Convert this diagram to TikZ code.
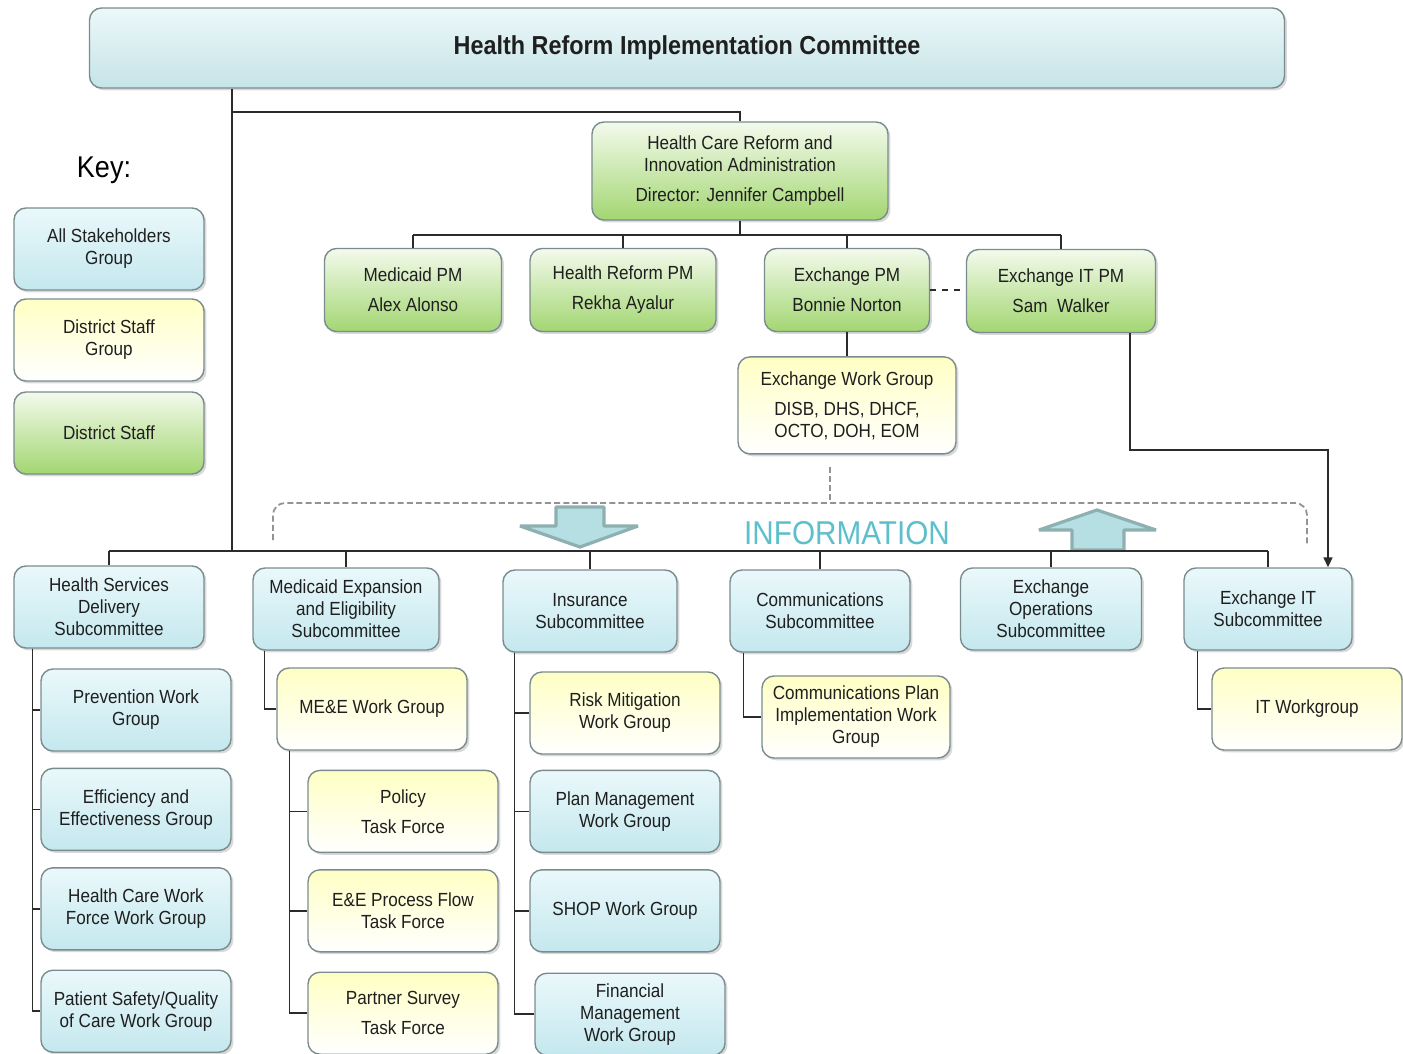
\documentclass[tikz,border=0pt]{standalone}
\usepackage{fontspec}
\setmainfont{Liberation Sans}[FakeStretch=0.9]
\usepackage{tikz}
\usetikzlibrary{shapes, arrows.meta, calc, positioning, shadows}
\definecolor{boxline}{HTML}{7A8C8E}
\definecolor{blueTop}{HTML}{EAF8FB}
\definecolor{blueBot}{HTML}{C4E8EE}
\definecolor{greenTop}{HTML}{F3FAEC}
\definecolor{greenBot}{HTML}{A3D672}
\definecolor{yellowTop}{HTML}{FFFFC4}
\definecolor{yellowBot}{HTML}{FFFFFF}
\definecolor{titleTop}{HTML}{EDF8F9}
\definecolor{titleBot}{HTML}{C5E4E7}
\definecolor{infotext}{HTML}{5CBFCA}
\definecolor{infofill}{HTML}{B5DFE3}
\definecolor{infoedge}{HTML}{8FB0B1}
\definecolor{wirecol}{HTML}{2B2B2B}
\tikzstyle{orgbox} = [rectangle, rounded corners=6pt, draw=boxline, line width=0.7pt, align=center, text=black!88, font=\fontsize{9.5}{11}\selectfont, inner sep=2pt, drop shadow={opacity=0.3, shadow xshift=1.2pt, shadow yshift=-1.2pt}]
\tikzstyle{bluebox} = [orgbox, top color=blueTop, bottom color=blueBot]
\tikzstyle{greenbox} = [orgbox, top color=greenTop, bottom color=greenBot]
\tikzstyle{yellowbox} = [orgbox, top color=yellowTop, bottom color=yellowBot]
\tikzstyle{titlebox} = [orgbox, top color=titleTop, bottom color=titleBot, minimum width=597.5pt, minimum height=40pt, font=\fontsize{13}{15}\selectfont\bfseries]
\tikzstyle{wg} = [minimum width=95pt, minimum height=41pt]
\tikzstyle{pm} = [greenbox, minimum height=41.5pt]
\tikzstyle{sub} = [bluebox, minimum height=41pt]
\tikzstyle{wire} = [draw=wirecol, line width=0.8pt]
\tikzstyle{wirearrow} = [wire, -{Triangle[length=5pt, width=4.5pt]}]
\tikzstyle{infoline} = [draw=gray!85, line width=0.9pt, dash pattern=on 3pt off 1.6pt]
\tikzstyle{infoarrow} = [fill=infofill, draw=infoedge, line width=1.6pt, line join=bevel]

\begin{document}
\begin{tikzpicture}[x=0.5pt, y=-0.5pt, node distance=8pt]
    \useasboundingbox (0,0) rectangle (1403,1054);
    % top of the chart
    \node (title) [titlebox] at (687,48) {Health Reform Implementation Committee};
    \node (key) [font=\fontsize{15}{17}\selectfont] at (104,170) {Key:};
    \node (keyall) [bluebox, wg] at (109,249) {All Stakeholders\\Group};
    \node (keydsg) [yellowbox, wg] at (109,340) {District Staff\\Group};
    \node (keyds) [greenbox, wg] at (109,433) {District Staff};
    \node (hcria) [greenbox, minimum width=148pt, minimum height=49pt] at (740,171) {Health Care Reform and\\Innovation Administration\\[4pt]Director: Jennifer Campbell};
    \node (mpm) [pm, minimum width=88.5pt] at (413,290) {Medicaid PM\\[4pt]Alex Alonso};
    \node (hrpm) [pm, minimum width=93pt] at (623,290) {Health Reform PM\\[4pt]Rekha Ayalur};
    \node (xpm) [pm, minimum width=82.5pt] at (847,290) {Exchange PM\\[4pt]Bonnie Norton};
    \node (xitpm) [pm, minimum width=94.5pt] at (1061,291) {Exchange IT PM\\[4pt]Sam\ \ Walker};
    \node (xwg) [yellowbox, minimum width=109pt, minimum height=48.5pt, below=12pt of xpm] {Exchange Work Group\\[4pt]DISB, DHS, DHCF,\\OCTO, DOH, EOM};
    % subcommittees
    \node (hsd) [sub, minimum width=95pt] at (109,607) {Health Services\\Delivery\\Subcommittee};
    \node (mee) [sub, minimum width=93pt] at (346,609) {Medicaid Expansion\\and Eligibility\\Subcommittee};
    \node (ins) [sub, minimum width=87pt] at (590,611) {Insurance\\Subcommittee};
    \node (comm) [sub, minimum width=90pt] at (820,611) {Communications\\Subcommittee};
    \node (xops) [sub, minimum width=90.5pt] at (1051,609) {Exchange\\Operations\\Subcommittee};
    \node (xit) [sub, minimum width=84pt] at (1268,609) {Exchange IT\\Subcommittee};
    % work groups
    \node (prev) [bluebox, wg] at (136,710) {Prevention Work\\Group};
    \node (eff) [bluebox, wg, below=of prev] {Efficiency and\\Effectiveness Group};
    \node (hcwf) [bluebox, wg, below=of eff] {Health Care Work\\Force Work Group};
    \node (pats) [bluebox, wg, below=9.5pt of hcwf] {Patient Safety/Quality\\of Care Work Group};
    \node (meewg) [yellowbox, wg] at (372,709) {ME\&E Work Group};
    \node (policy) [yellowbox, wg, below=9.5pt of meewg, xshift=15.5pt] {Policy\\[4pt]Task Force};
    \node (eeflow) [yellowbox, wg, below=of policy] {E\&E Process Flow\\Task Force};
    \node (partner) [yellowbox, wg, below=9.5pt of eeflow] {Partner Survey\\[4pt]Task Force};
    \node (risk) [yellowbox, wg] at (625,713) {Risk Mitigation\\Work Group};
    \node (plan) [bluebox, wg, below=7.5pt of risk] {Plan Management\\Work Group};
    \node (shop) [bluebox, wg, below=of plan] {SHOP Work Group};
    \node (fin) [bluebox, wg, below=10pt of shop, xshift=2.5pt] {Financial\\Management\\Work Group};
    \node (commplan) [yellowbox, wg, minimum width=94pt] at (856,717) {Communications Plan\\Implementation Work\\Group};
    \node (itwg) [yellowbox, wg] at (1307,709) {IT Workgroup};
    % information flow
    \node (info) [text=infotext, font=\fontsize{16.5}{18}\selectfont] at (847,533) {INFORMATION};
    \draw [infoarrow] (556,507) -- (604,507) -- (604,526) -- (638,526) -- (580,547) -- (520,526) -- (556,526) -- cycle;
    \draw [infoarrow] (1072,550) -- (1124,550) -- (1124,530) -- (1156,530) -- (1097,510) -- (1039,530) -- (1072,530) -- cycle;
    \coordinate (infoL) at (273,540);
    \coordinate (infoR) at (1307,545);
    \coordinate (infoTop) at (830,503);
    \draw [infoline] ([xshift=-8.5pt, yshift=-6pt]xwg.south) -- (infoTop);
    \draw [infoline, rounded corners=6pt] (infoL) |- (infoTop) -| (infoR);
    % connectors
    \coordinate (busL) at (232,551);
    \coordinate (hcriaBar) at (232,112);
    \coordinate (pmBar) at (740,235);
    \coordinate (itTurn) at (1328,450);
    \draw [wire] (title.south -| busL) -- (busL);
    \draw [wire] (hcriaBar) -| (hcria.north);
    \draw [wire] (hcria.south) -- (pmBar);
    \draw [wire] (mpm.north |- pmBar) -- (xitpm.north |- pmBar);
    \foreach \n in {mpm, hrpm, xpm, xitpm}
        \draw [wire] (\n.north |- pmBar) -- (\n.north);
    \draw [wire, dashed] (xpm.east) -- (xpm.east -| xitpm.west);
    \draw [wire] (xpm) -- (xwg);
    \draw [wirearrow] ([xshift=34.5pt]xitpm.south) |- (itTurn) -- (itTurn |- xit.north);
    \draw [wire] (hsd.north |- busL) -- (xit.north |- busL);
    \foreach \n in {hsd, mee, ins, comm, xops, xit}
        \draw [wire] (\n.north |- busL) -- (\n.north);
    \foreach \c in {prev, eff, hcwf, pats}
        \draw [wire] ([xshift=9.5pt]hsd.south west) |- (\c.west);
    \draw [wire] ([xshift=6pt]mee.south west) |- (meewg.west);
    \foreach \c in {policy, eeflow, partner}
        \draw [wire] ([xshift=6.5pt]meewg.south west) |- (\c.west);
    \foreach \c in {risk, plan, shop, fin}
        \draw [wire] ([xshift=6pt]ins.south west) |- (\c.west);
    \draw [wire] ([xshift=7pt]comm.south west) |- (commplan.west);
    \draw [wire] ([xshift=7pt]xit.south west) |- (itwg.west);
\end{tikzpicture}
\end{document}
